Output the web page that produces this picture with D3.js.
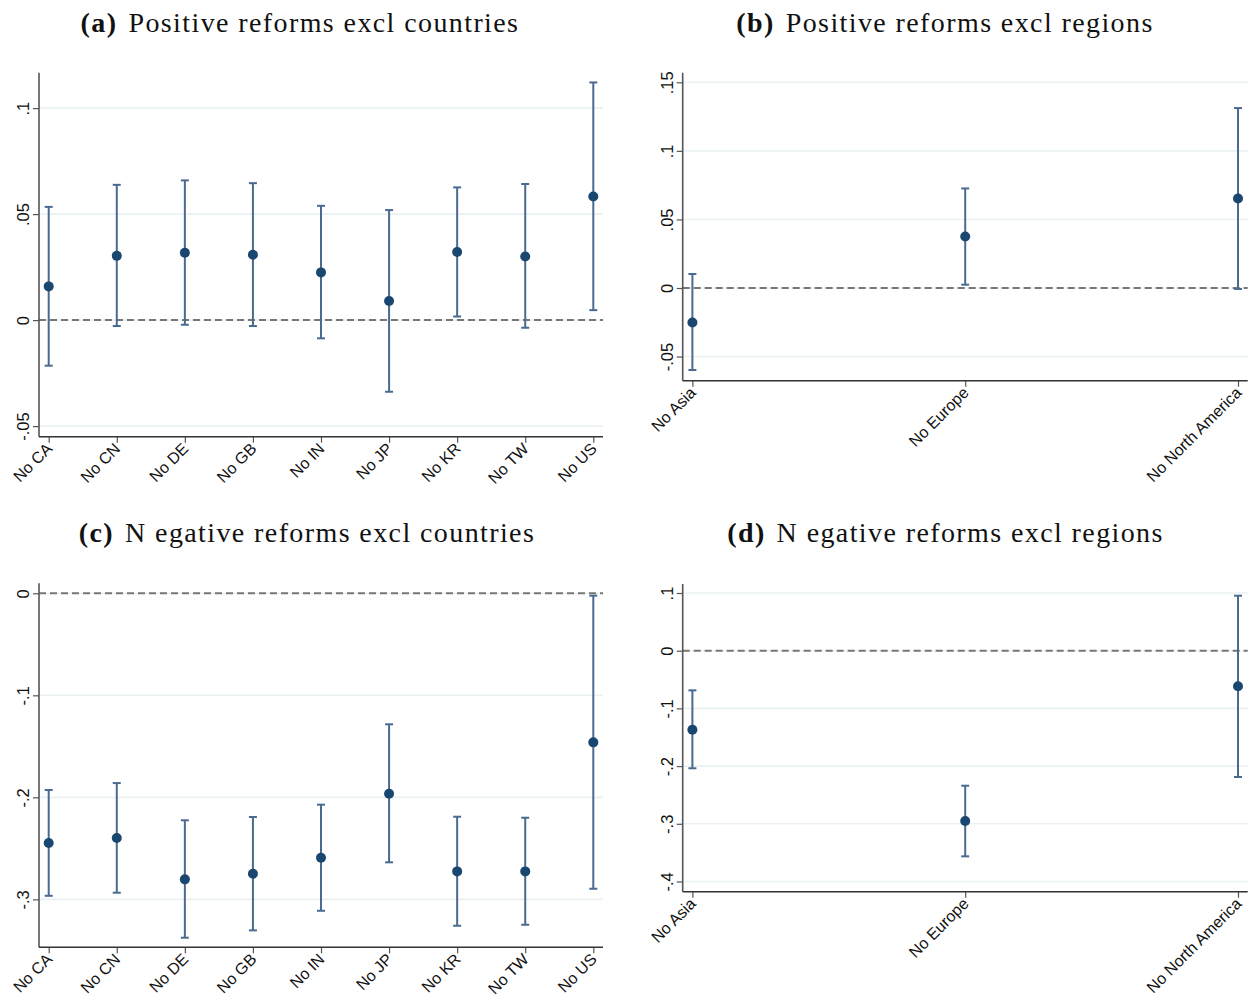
<!DOCTYPE html>
<html>
<head>
<meta charset="utf-8">
<script src="https://cdn.jsdelivr.net/npm/d3@7/dist/d3.min.js"></script>
<style>
  body { margin: 0; background: #fff; }
  svg { display: block; }
</style>
</head>
<body>
<div id="chart"></div>
<script>
// categories
var countries = ["No CA", "No CN", "No DE", "No GB", "No IN", "No JP", "No KR", "No TW", "No US"];
var regions = ["No Asia", "No Europe", "No North America"];

// (a) positive reforms, excluding one country at a time
var posCountryEst = [0.0159, 0.0303, 0.0318, 0.0308, 0.0225, 0.0090, 0.0321, 0.0300, 0.0583];
var posCountryLo  = [-0.0215, -0.0028, -0.0022, -0.0028, -0.0086, -0.0338, 0.0017, -0.0036, 0.0047];
var posCountryHi  = [0.0534, 0.0638, 0.0659, 0.0646, 0.0539, 0.0519, 0.0626, 0.0642, 0.1121];

// (b) positive reforms, excluding one region at a time
var posRegionEst = [-0.0251, 0.0376, 0.0653];
var posRegionLo  = [-0.0598, 0.0024, -0.0007];
var posRegionHi  = [0.0102, 0.0726, 0.1312];

// (c) negative reforms, excluding one country at a time
var negCountryEst = [-0.2448, -0.2399, -0.2804, -0.2749, -0.2592, -0.1965, -0.2726, -0.2726, -0.1461];
var negCountryLo  = [-0.2965, -0.2935, -0.3376, -0.3304, -0.3112, -0.2637, -0.3259, -0.3249, -0.2896];
var negCountryHi  = [-0.1928, -0.1860, -0.2225, -0.2193, -0.2072, -0.1284, -0.2190, -0.2200, -0.0023];

// (d) negative reforms, excluding one region at a time
var negRegionEst = [-0.1369, -0.2952, -0.0617];
var negRegionLo  = [-0.2038, -0.3564, -0.2189];
var negRegionHi  = [-0.0687, -0.2340, 0.0953];

// y tick values
var ticksA = [-0.05, 0, 0.05, 0.1];
var ticksB = [-0.05, 0, 0.05, 0.1, 0.15];
var ticksC = [-0.3, -0.2, -0.1, 0];
var ticksD = [-0.4, -0.3, -0.2, -0.1, 0, 0.1];

var width = 1255, height = 1000;

var svg = d3.select("#chart")
  .append("svg")
  .attr("width", width)
  .attr("height", height);

// stata style labels: ".05", "-.1"
function fmt(v) {
  if (v === 0) return "0";
  return String(+v.toFixed(3)).replace("0.", ".");
}

var panels = [
  { letter: "(a)", title: "Positive reforms excl countries", cx: 300, ty: 31.5,
    cats: countries, est: posCountryEst, lo: posCountryLo, hi: posCountryHi,
    ticks: ticksA, dom: [-0.055, 0.1167], box: [39, 72.7, 603, 436.7] },
  { letter: "(b)", title: "Positive reforms excl regions", cx: 945, ty: 31.5,
    cats: regions, est: posRegionEst, lo: posRegionLo, hi: posRegionHi,
    ticks: ticksB, dom: [-0.0676, 0.157], box: [682.7, 72.7, 1247.7, 380.7] },
  { letter: "(c)", title: "N egative reforms excl countries", cx: 307, ty: 541.5,
    cats: countries, est: negCountryEst, lo: negCountryLo, hi: negCountryHi,
    ticks: ticksC, dom: [-0.347, 0.0098], box: [39, 583.3, 603, 947.3] },
  { letter: "(d)", title: "N egative reforms excl regions", cx: 945.5, ty: 541.5,
    cats: regions, est: negRegionEst, lo: negRegionLo, hi: negRegionHi,
    ticks: ticksD, dom: [-0.4177, 0.1156], box: [682.7, 584, 1247.7, 891.7] }
];

var dotColor = "#1a476f",
  barColor = "#4a6a90",
  gridColor = "#eaf1f3",
  axisColor = "#555";

panels.forEach(function (p) {
  var left = p.box[0], top = p.box[1], right = p.box[2], bottom = p.box[3];

  // title
  var t = svg.append("text")
    .attr("x", p.cx)
    .attr("y", p.ty)
    .attr("text-anchor", "middle")
    .style("font-family", "'Liberation Serif', 'DejaVu Serif', serif")
    .style("font-size", "28px")
    .style("letter-spacing", "1.4px")
    .style("fill", "#111");
  t.append("tspan").style("font-weight", "bold").text(p.letter);
  t.append("tspan").attr("dx", 11).text(p.title);

  var y = d3.scaleLinear().domain(p.dom).range([bottom, top]);
  var x = d3.scalePoint().domain(p.cats).range([left + 9.7, right - 9.7]);

  var g = svg.append("g");

  // gridlines
  g.selectAll(".grid")
    .data(p.ticks)
    .enter()
    .append("line")
    .attr("x1", left)
    .attr("x2", right)
    .attr("y1", function (d) { return y(d); })
    .attr("y2", function (d) { return y(d); })
    .style("stroke", gridColor)
    .style("stroke-width", 1.6);

  // zero line
  g.append("line")
    .attr("x1", left)
    .attr("x2", right)
    .attr("y1", y(0))
    .attr("y2", y(0))
    .style("stroke", "#777")
    .style("stroke-width", 2)
    .style("stroke-dasharray", "7,4");

  // y axis
  var yAxis = g.append("g")
    .attr("transform", "translate(" + left + ",0)")
    .call(d3.axisLeft(y).tickValues(p.ticks).tickFormat(fmt).tickSize(6).tickSizeOuter(0));
  yAxis.select(".domain").remove();
  yAxis.append("line")
    .attr("y1", top).attr("y2", bottom)
    .style("stroke", axisColor).style("stroke-width", 1.6);
  yAxis.selectAll(".tick line").style("stroke", axisColor).style("stroke-width", 1.2);
  yAxis.selectAll(".tick text")
    .attr("x", null)
    .attr("dy", null)
    .attr("transform", "translate(-10,0) rotate(-90)")
    .attr("text-anchor", "middle")
    .style("font-family", "'Liberation Sans', Arial, sans-serif")
    .style("font-size", "16.5px")
    .style("fill", "#111");

  // x axis
  var xAxis = g.append("g")
    .attr("transform", "translate(0," + bottom + ")")
    .call(d3.axisBottom(x).tickSize(6).tickSizeOuter(0));
  xAxis.select(".domain").remove();
  xAxis.append("line")
    .attr("x1", left).attr("x2", right)
    .style("stroke", "#333").style("stroke-width", 1.4);
  xAxis.selectAll(".tick line").style("stroke", axisColor).style("stroke-width", 1.2);
  xAxis.selectAll(".tick text")
    .attr("y", null)
    .attr("dy", null)
    .attr("transform", "translate(4,13) rotate(-45)")
    .attr("text-anchor", "end")
    .style("font-family", "'Liberation Sans', Arial, sans-serif")
    .style("font-size", "16px")
    .style("fill", "#111");

  var rows = p.cats.map(function (c, i) {
    return { cat: c, est: p.est[i], lo: p.lo[i], hi: p.hi[i] };
  });

  // confidence intervals
  var ci = g.selectAll(".ci")
    .data(rows)
    .enter()
    .append("g")
    .style("stroke", barColor)
    .style("stroke-width", 2);
  ci.append("line")
    .attr("x1", function (d) { return x(d.cat); })
    .attr("x2", function (d) { return x(d.cat); })
    .attr("y1", function (d) { return y(d.lo); })
    .attr("y2", function (d) { return y(d.hi); });
  ci.append("line")
    .attr("x1", function (d) { return x(d.cat) - 4; })
    .attr("x2", function (d) { return x(d.cat) + 4; })
    .attr("y1", function (d) { return y(d.lo); })
    .attr("y2", function (d) { return y(d.lo); });
  ci.append("line")
    .attr("x1", function (d) { return x(d.cat) - 4; })
    .attr("x2", function (d) { return x(d.cat) + 4; })
    .attr("y1", function (d) { return y(d.hi); })
    .attr("y2", function (d) { return y(d.hi); });

  // point estimates
  g.selectAll(".dot")
    .data(rows)
    .enter()
    .append("circle")
    .attr("cx", function (d) { return x(d.cat); })
    .attr("cy", function (d) { return y(d.est); })
    .attr("r", 5)
    .style("fill", dotColor);
});
</script>
</body>
</html>
